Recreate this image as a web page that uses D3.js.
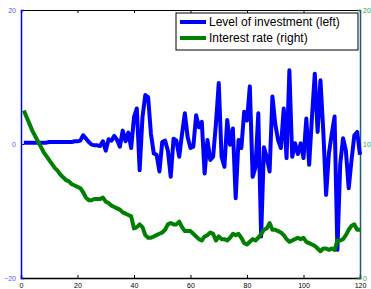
<!DOCTYPE html>
<html>
<head>
<meta charset="utf-8">
<script src="https://cdn.jsdelivr.net/npm/d3@7"></script>
<style>
  body { margin: 0; background: #fff; }
  svg { display: block; font-family: "Liberation Sans", Arial, sans-serif; }
</style>
</head>
<body>
<svg id="chart" width="371" height="289"></svg>
<script>
// Level of investment (left axis), one value per period 1..120
const investment = [
  0.2, 0.2, 0.2, 0.2, 0.2, 0.2, 0.2, 0.2, 0.2, 0.3,
  0.3, 0.3, 0.3, 0.3, 0.3, 0.3, 0.3, 0.3, 0.4, 0.4,
  0.5, 1.3, 0.8, 0.3, -0.1, -0.2, -0.2, -0.3, 0.4, -1.0,
  0.7, 0.5, 1.2, 0.6, -0.4, 2.0, 0.4, 1.7, -0.6, 4.0,
  5.3, -3.9, 4.0, 7.3, 7.0, 1.5, -1.4, -1.6, -4.1, 0.3,
  0.5, -1.0, -4.9, 0.8, 0.5, -1.9, 1.5, 4.6, 1.0, -0.6,
  -0.4, 4.3, 2.5, 3.3, -4.4, 0.6, -2.4, -1.9, 3.0, 9.1,
  -1.9, -3.4, 3.6, -0.1, 2.3, -8.1, 0.6, -0.6, 4.8, 3.5,
  8.6, -4.9, -3.5, 4.6, -13.8, -0.5, -2.0, -4.1, 7.1, 3.0,
  0.6, -0.6, 5.3, -2.1, 11.0, -1.9, 0.1, -1.5, 0.1, -2.1,
  3.8, -3.1, 4.0, 10.5, 1.8, 9.5, 2.0, -7.6, -1.4, 1.5,
  4.1, -15.8, -3.0, 0.85, -1.0, -6.6, -2.4, 1.3, 1.8, -1.6
];

// Interest rate (right axis), one value per period 1..120
const interest = [
  12.5, 12.0, 11.5, 11.0, 10.6, 10.2, 9.8, 9.4, 9.1, 8.8,
  8.5, 8.2, 8.0, 7.7, 7.5, 7.3, 7.2, 7.0, 6.9, 6.8,
  6.7, 6.4, 6.0, 5.8, 5.8, 5.9, 5.9, 5.9, 6.0, 5.7,
  5.6, 5.4, 5.3, 5.2, 5.1, 4.9, 4.8, 4.7, 4.6, 3.7,
  3.8, 4.0, 3.8, 3.2, 3.0, 3.0, 3.1, 3.2, 3.3, 3.4,
  3.6, 4.0, 4.1, 4.0, 4.0, 4.2, 3.8, 3.5, 3.5, 3.5,
  3.3, 3.1, 2.9, 2.8, 3.1, 3.2, 3.4, 3.3, 2.8, 3.1,
  2.9, 2.9, 2.8, 3.0, 3.3, 3.2, 3.3, 3.0, 2.6, 2.5,
  2.7, 2.9, 2.8, 3.0, 3.3, 3.6, 3.7, 4.1, 3.6, 3.6,
  3.5, 3.4, 3.2, 2.9, 2.7, 2.8, 2.9, 3.0, 2.9, 3.0,
  2.7, 2.6, 2.5, 2.4, 2.2, 2.0, 2.2, 2.2, 2.1, 2.2,
  2.1, 2.8, 2.8, 2.9, 3.2, 3.6, 3.9, 4.0, 3.6, 3.6
];

const xTicks = [0, 20, 40, 60, 80, 100, 120];
const leftTicks = [-20, 0, 20];
const rightTicks = [0, 10, 20];
const seriesNames = ["Level of investment (left)", "Interest rate (right)"];

const blue = "#0000ff", green = "#008000";

const margin = {top: 10, right: 11, bottom: 11, left: 21},
      width = 371 - margin.left - margin.right,
      height = 289 - margin.top - margin.bottom;

const svg = d3.select("#chart")
  .append("g")
  .attr("transform", `translate(${margin.left},${margin.top})`);

const x = d3.scaleLinear().domain([0, 120]).range([0, width]);
const yL = d3.scaleLinear().domain([-20, 20]).range([height, 0]);
const yR = d3.scaleLinear().domain([0, 20]).range([height, 0]);

// bottom axis
const bottomAxis = svg.append("g")
  .attr("transform", `translate(0,${height})`)
  .call(d3.axisBottom(x).tickValues(xTicks).tickSize(-3).tickPadding(5));
bottomAxis.select(".domain").attr("stroke", "#000").attr("stroke-width", 1.5);
bottomAxis.selectAll("text").attr("font-size", 7).attr("fill", "#000");

// top axis (ticks only, no labels)
const topAxis = svg.append("g")
  .call(d3.axisTop(x).tickValues(xTicks).tickSize(-3).tickFormat(""));
topAxis.select(".domain").attr("stroke", "#000").attr("stroke-width", 1.2);

// left axis, blue
const leftAxis = svg.append("g")
  .call(d3.axisLeft(yL).tickValues(leftTicks).tickSize(-3).tickPadding(5));
leftAxis.select(".domain").attr("stroke", blue).attr("stroke-width", 1.5);
leftAxis.selectAll("line").attr("stroke", blue);
leftAxis.selectAll("text").attr("font-size", 7).attr("fill", "#5a5aff");

// right axis, green
const rightAxis = svg.append("g")
  .attr("transform", `translate(${width},0)`)
  .call(d3.axisRight(yR).tickValues(rightTicks).tickSize(-3).tickPadding(3));
rightAxis.select(".domain").attr("stroke", "#1d5d78").attr("stroke-width", 1.5);
rightAxis.selectAll("line").attr("stroke", green);
rightAxis.selectAll("text").attr("font-size", 7).attr("fill", "#3a9a3a");

// lines
const lineL = d3.line().x((d, i) => x(i + 1)).y(d => yL(d));
const lineR = d3.line().x((d, i) => x(i + 1)).y(d => yR(d));

svg.append("path")
  .datum(investment)
  .attr("fill", "none")
  .attr("stroke", blue)
  .attr("stroke-width", 4)
  .attr("stroke-linejoin", "round")
  .attr("d", lineL);

svg.append("path")
  .datum(interest)
  .attr("fill", "none")
  .attr("stroke", green)
  .attr("stroke-width", 4)
  .attr("stroke-linejoin", "round")
  .attr("d", lineR);

// legend
const legend = svg.append("g").attr("transform", "translate(155,3)");
legend.append("rect")
  .attr("width", 182).attr("height", 37)
  .attr("fill", "#fff").attr("stroke", "#000").attr("stroke-width", 1);

[blue, green].forEach((c, i) => {
  const yy = 9 + i * 16;
  legend.append("line")
    .attr("x1", 4).attr("x2", 30).attr("y1", yy).attr("y2", yy)
    .attr("stroke", c).attr("stroke-width", 4);
  legend.append("text")
    .attr("x", 33).attr("y", yy + 4)
    .attr("font-size", 12)
    .text(seriesNames[i]);
});
</script>
</body>
</html>
